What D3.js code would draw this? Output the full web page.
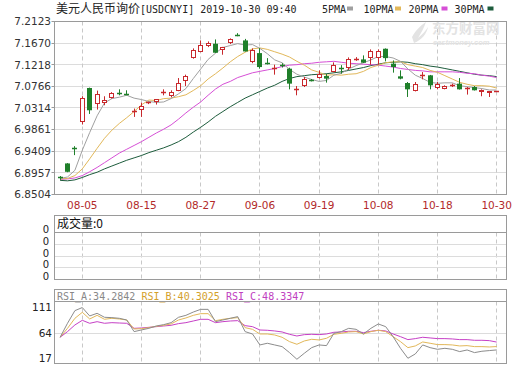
<!DOCTYPE html>
<html><head><meta charset="utf-8">
<script src="https://cdn.jsdelivr.net/npm/d3@7"></script>
<style>body{margin:0;background:#fff}svg{display:block}</style>
</head><body>
<svg id="c" width="520" height="365"></svg>
<script>
const dates = ["07-31","08-01","08-02","08-05","08-06","08-07","08-08","08-09","08-12","08-13","08-14","08-15","08-16","08-19","08-20","08-21","08-22","08-23","08-26","08-27","08-28","08-29","08-30","09-02","09-03","09-04","09-05","09-06","09-09","09-10","09-11","09-12","09-16","09-17","09-18","09-19","09-20","09-23","09-24","09-25","09-26","09-27","09-30","10-08","10-09","10-10","10-11","10-14","10-15","10-16","10-17","10-18","10-21","10-22","10-23","10-24","10-25","10-28","10-29","10-30"];
const xTickLabels = ["08-05","08-15","08-27","09-06","09-19","10-08","10-18","10-30"];
const priceTicks = ["7.2123","7.1670","7.1218","7.0766","7.0314","6.9861","6.9409","6.8957","6.8504"];
const open  = [6.887,6.9154,6.948,7.0022,7.0732,7.0406,7.0419,7.0523,7.0625,7.061,7.024,7.0273,7.041,7.0427,7.062,7.0565,7.0669,7.0878,7.1366,7.1483,7.1608,7.1658,7.1533,7.1658,7.1836,7.1727,7.1274,7.1462,7.1246,7.1125,7.121,7.1136,7.069,7.0788,7.090,7.094,7.0982,7.1065,7.116,7.1149,7.132,7.133,7.1345,7.1357,7.1553,7.1241,7.0976,7.0836,7.0684,7.099,7.0997,7.0732,7.0719,7.078,7.0823,7.0712,7.0752,7.0636,7.0636,7.0662];
const high  = [6.889,6.916,6.9515,7.0559,7.074,7.0677,7.0559,7.0645,7.0704,7.0684,7.0302,7.0427,7.0445,7.050,7.0704,7.0684,7.094,7.1011,7.156,7.1727,7.1706,7.1748,7.1592,7.177,7.1879,7.1759,7.156,7.1566,7.1357,7.122,7.125,7.1156,7.0773,7.0962,7.092,7.1101,7.103,7.1268,7.121,7.1372,7.1378,7.1414,7.1539,7.1539,7.156,7.1309,7.1101,7.0857,7.0857,7.1065,7.1005,7.0857,7.0788,7.0823,7.094,7.0752,7.0773,7.0704,7.0669,7.0668];
const low   = [6.881,6.897,6.9328,6.9968,7.0189,7.0281,7.0371,7.051,7.0579,7.058,7.0127,7.0127,7.0395,7.0385,7.0579,7.0537,7.0665,7.0773,7.1345,7.148,7.1587,7.1465,7.1428,7.165,7.1815,7.1495,7.125,7.1136,7.1225,7.1011,7.116,7.0704,7.0579,7.0752,7.087,7.093,7.0844,7.106,7.1032,7.1108,7.130,7.1255,7.122,7.122,7.1289,7.1053,7.0913,7.0544,7.066,7.0913,7.0704,7.0704,7.0704,7.0752,7.0700,7.0594,7.068,7.0559,7.0544,7.0660];
const close = [6.886,6.8979,6.945,7.0523,7.0266,7.0615,7.0475,7.0636,7.061,7.0595,7.026,7.0356,7.043,7.0496,7.064,7.0648,7.0836,7.0982,7.1533,7.1637,7.1664,7.147,7.1587,7.1748,7.1826,7.1497,7.1533,7.117,7.124,7.114,7.120,7.0823,7.071,7.0926,7.0885,7.1017,7.0928,7.122,7.114,7.1345,7.134,7.1261,7.1497,7.1497,7.1357,7.117,7.0928,7.0704,7.0823,7.1005,7.0788,7.0823,7.0773,7.0795,7.0704,7.0726,7.0684,7.0684,7.0669,7.0665];
const ma5  = [6.884,6.887,6.901,6.943,6.980,7.015,7.042,7.051,7.054,7.058,7.052,7.049,7.045,7.043,7.044,7.051,7.061,7.072,7.093,7.113,7.133,7.146,7.158,7.162,7.166,7.163,7.164,7.156,7.145,7.132,7.126,7.112,7.102,7.096,7.091,7.087,7.089,7.100,7.104,7.113,7.120,7.126,7.132,7.139,7.139,7.136,7.129,7.113,7.100,7.093,7.085,7.083,7.084,7.084,7.078,7.076,7.074,7.072,7.069,7.069];
const ma10 = [6.883,6.884,6.890,6.904,6.925,6.947,6.968,6.985,6.999,7.011,7.024,7.038,7.048,7.047,7.051,7.052,7.055,7.059,7.068,7.078,7.092,7.103,7.115,7.128,7.139,7.148,7.155,7.157,7.154,7.149,7.144,7.138,7.129,7.121,7.111,7.106,7.100,7.101,7.100,7.102,7.103,7.108,7.116,7.121,7.126,7.128,7.128,7.122,7.119,7.116,7.110,7.106,7.099,7.092,7.085,7.081,7.078,7.078,7.077,7.073];
const ma20 = [6.882,6.883,6.885,6.890,6.898,6.907,6.917,6.927,6.937,6.945,6.953,6.961,6.970,6.979,6.987,6.996,7.008,7.021,7.033,7.044,7.058,7.071,7.081,7.087,7.095,7.100,7.105,7.108,7.111,7.114,7.118,7.121,7.122,7.124,7.125,7.127,7.128,7.129,7.127,7.125,7.124,7.123,7.122,7.121,7.119,7.117,7.114,7.112,7.110,7.109,7.107,7.107,7.107,7.107,7.106,7.104,7.103,7.100,7.098,7.095];
const ma30 = [6.880,6.879,6.881,6.886,6.892,6.897,6.904,6.910,6.916,6.922,6.927,6.932,6.938,6.943,6.948,6.954,6.961,6.970,6.981,6.991,7.002,7.014,7.024,7.034,7.043,7.052,7.059,7.066,7.073,7.079,7.087,7.093,7.097,7.099,7.101,7.102,7.103,7.105,7.107,7.110,7.113,7.116,7.120,7.123,7.126,7.127,7.128,7.127,7.124,7.122,7.119,7.117,7.114,7.111,7.108,7.105,7.102,7.100,7.099,7.097];
const volTicks = ["0","0","0","0","0"];
const rsiTicks = [111, 64, 17];
const rsiA = [56.9,81.9,104.5,110,95,99.7,92.6,92,90.8,87.8,67,70,72.9,77.1,79.5,83,92.6,96.1,102,106.8,106.8,84.8,87.8,90.8,93.8,67,62.8,43.2,46.2,43.2,40.2,29.5,17.6,28.3,38.4,43.2,42,64,67,72.9,71.1,62.8,72.9,80.7,75.9,58,37.2,19.4,27.1,43.2,38.4,35.4,37.2,35.4,31.3,34.2,29.5,31.9,33.1,34.28];
const rsiB = [56.9,72.9,90.8,101.5,89.6,96.1,89,90.8,89.6,87.8,71.7,72.3,74.1,76.5,78.3,80.7,87.8,91.4,96.1,99.1,99.1,86.6,89,90.8,92,74.1,71.1,62.8,62.8,61,56.9,49.1,44.4,50.3,53.3,52.1,55.1,62.2,64,66.4,67,62.8,67,69.4,67,58,49.1,38.4,41.4,48.5,46.2,43.8,43.8,43.2,41.4,42,40.2,40.2,39.6,40.3];
const rsiC = [56.9,67,78.9,87.2,81.9,84.8,81.9,83,82.4,81.9,72.9,73.5,74.7,75.9,77.1,78.3,81.3,83,86,89,89,83,84.8,86,86.6,77.7,75.9,69.9,69.4,68.2,66.4,62.2,59.2,61.6,62.2,61.6,62.8,65.8,66.4,67.6,67.6,65.2,67.6,69.4,68.2,62.8,58,52.7,54.5,56.9,55.7,54.5,54.5,53.9,52.7,52.7,51.5,51.5,50.9,48.33];
const rsiLabels = ["RSI_A:34.2842","RSI_B:40.3025","RSI_C:48.3347"];

const svg = d3.select("#c");
const L = 54.5, R = 506.5;
const main = {top: 21.5, bottom: 194.5};
const vol = {top: 215.5, sep: 232.5, bottom: 279.5};
const rsiP = {top: 289.5, sep: 301.5, bottom: 363.5};
const RED = "#c8282c", GREEN = "#1f7f2a", GRID = "#dcdcdc", FRAME = "#9a9a9a";
const cjk = "'Noto Sans CJK SC', sans-serif", mono = "'DejaVu Sans Mono', monospace", axf = "'DejaVu Sans', Verdana, sans-serif", sans = "'Liberation Sans', Arial, sans-serif";

const x = d3.scalePoint().domain(dates).range([60.1, 496.7]);
const y = d3.scaleLinear().domain([6.8504, 7.2123]).range([194.5, 21.5]);
const yR = d3.scaleLinear().domain([17, 111]).range([359.6, 307]);
const yV = d3.scaleLinear().domain([0, 4]).range([vol.sep, vol.bottom]);

const crisp = v => Math.round(v - 0.5) + 0.5;

// ---------- title & legend ----------
const t = svg.append("text").attr("y", 12.5).attr("fill", "#222");
t.append("tspan").attr("x", 56).attr("font-family", cjk).attr("font-size", 12).text("美元人民币询价");
t.append("tspan").attr("x", 140).attr("font-family", mono).attr("font-size", 10).text("[USDCNYI] 2019-10-30 09:40");
const legend = [["5PMA","#a0a0a0",322,347],["10PMA","#e2b85a",363.5,395],["20PMA","#d64fd6",408.5,441.5],["30PMA","#1d5c3c",454.5,487.5]];
legend.forEach(([name,col,tx,sx])=>{
  svg.append("text").attr("x",tx).attr("y",12.5).attr("font-family",mono).attr("font-size",10).attr("fill","#222").text(name);
  svg.append("rect").attr("x",sx).attr("y",6.5).attr("width",6).attr("height",4).attr("fill",col);
});

// ---------- vertical dashed grid ----------
function vgrid(top, bottom){
  svg.append("g").selectAll("line").data(xTickLabels).join("line")
    .attr("x1",d=>crisp(x(d))).attr("x2",d=>crisp(x(d)))
    .attr("y1",top).attr("y2",bottom)
    .attr("stroke","#c8c8c8").attr("stroke-dasharray","4,3");
}

// ---------- main panel ----------
svg.append("g").selectAll("line").data(priceTicks.slice(1,-1)).join("line")
  .attr("x1",L).attr("x2",R).attr("y1",d=>crisp(y(+d))).attr("y2",d=>crisp(y(+d)))
  .attr("stroke",GRID);
vgrid(main.top, main.bottom);

// watermark
const wm = svg.append("g").attr("fill","#e3e3e3");
wm.append("path").attr("d","M412,37 C416,30 420,26 426,22 C424,28 421,33 418,38 C423,34 426,30 428,27 C427,33 422,40 414,43 Z");
wm.append("text").attr("x",432).attr("y",33).attr("font-family",cjk).attr("font-size",13.5).attr("font-weight","bold").text("东方财富网");
wm.append("text").attr("x",433).attr("y",45).attr("font-family",sans).attr("font-size",7.5).attr("font-weight","bold").attr("font-style","italic").text("eastmoney.com");

svg.append("rect").attr("x",L).attr("y",main.top).attr("width",R-L).attr("height",main.bottom-main.top)
  .attr("fill","none").attr("stroke",FRAME);

// y labels + ticks
svg.append("g").selectAll("text").data(priceTicks).join("text")
  .attr("x",51).attr("y",d=>y(+d)+3.8).attr("text-anchor","end")
  .attr("font-family",axf).attr("font-size",10.5).attr("fill","#333").text(d=>d);
svg.append("g").selectAll("line").data(priceTicks).join("line")
  .attr("x1",51.5).attr("x2",L).attr("y1",d=>crisp(y(+d))).attr("y2",d=>crisp(y(+d)))
  .attr("stroke",FRAME);
// x labels
svg.append("g").selectAll("text").data(xTickLabels).join("text")
  .attr("x",d=>x(d)).attr("y",209).attr("text-anchor","middle")
  .attr("font-family",axf).attr("font-size",10.5).attr("fill","#b22a2a").text(d=>d);

// MA lines
const maLine = arr => d3.line().x((d,i)=>x(dates[i])).y(d=>y(d))(arr);
[[ma30,"#1d5c3c"],[ma20,"#d64fd6"],[ma10,"#e2b85a"],[ma5,"#a0a0a0"]].forEach(([arr,col])=>{
  svg.append("path").attr("d",maLine(arr)).attr("fill","none").attr("stroke",col).attr("stroke-width",1);
});

// candles
const candles = svg.append("g");
dates.forEach((d,i)=>{
  const o=open[i], c=close[i], h=high[i], l=low[i];
  const up = c >= o;
  const col = up ? RED : GREEN;
  const cx = crisp(x(d));
  candles.append("line").attr("x1",cx).attr("x2",cx).attr("y1",y(h)).attr("y2",y(l)).attr("stroke",col);
  const yt = y(Math.max(o,c)), yb = y(Math.min(o,c));
  const hgt = yb - yt;
  if (hgt < 1.5){
    candles.append("line").attr("x1",cx-2.5).attr("x2",cx+2.5).attr("y1",crisp((yt+yb)/2)).attr("y2",crisp((yt+yb)/2)).attr("stroke",col).attr("stroke-width",1.5);
  } else if (up){
    candles.append("rect").attr("x",cx-2).attr("y",Math.round(yt)+0.5).attr("width",4).attr("height",Math.max(1,Math.round(hgt)-1))
      .attr("fill","#fff").attr("stroke",col);
  } else {
    candles.append("rect").attr("x",cx-2.5).attr("y",yt).attr("width",5).attr("height",hgt).attr("fill",col);
  }
});

// ---------- volume panel ----------
vgrid(vol.sep, vol.bottom);
svg.append("g").selectAll("line").data([1,2,3]).join("line")
  .attr("x1",L).attr("x2",R).attr("y1",d=>crisp(yV(d))).attr("y2",d=>crisp(yV(d))).attr("stroke",GRID);
svg.append("rect").attr("x",L).attr("y",vol.top).attr("width",R-L).attr("height",vol.bottom-vol.top).attr("fill","none").attr("stroke",FRAME);
svg.append("line").attr("x1",L).attr("x2",R).attr("y1",vol.sep).attr("y2",vol.sep).attr("stroke",FRAME);
svg.append("text").attr("x",57).attr("y",227.5).attr("font-family",cjk).attr("font-size",12).attr("fill","#111").text("成交量:0");
svg.append("g").selectAll("text").data(volTicks).join("text")
  .attr("x",49).attr("y",(d,i)=>yV(i)+0.5).attr("text-anchor","end")
  .attr("font-family",axf).attr("font-size",10).attr("fill","#222").text(d=>d);

// ---------- RSI panel ----------
vgrid(rsiP.sep, rsiP.bottom);
svg.append("line").attr("x1",L).attr("x2",R).attr("y1",crisp(yR(64))).attr("y2",crisp(yR(64))).attr("stroke",GRID);
svg.append("rect").attr("x",L).attr("y",rsiP.top).attr("width",R-L).attr("height",rsiP.bottom-rsiP.top).attr("fill","none").attr("stroke",FRAME);
svg.append("line").attr("x1",L).attr("x2",R).attr("y1",rsiP.sep).attr("y2",rsiP.sep).attr("stroke",FRAME);
const rl = d3.line().x((d,i)=>x(dates[i])).y(d=>yR(d));
[[rsiC,"#c640c6"],[rsiB,"#e2b85a"],[rsiA,"#8c8c8c"]].forEach(([arr,col])=>{
  svg.append("path").attr("d",rl(arr)).attr("fill","none").attr("stroke",col).attr("stroke-width",1);
});
const rt = svg.append("text").attr("y",299.5).attr("font-family",mono).attr("font-size",10);
rt.append("tspan").attr("x",57).attr("fill","#888").text(rsiLabels[0]);
rt.append("tspan").attr("x",141.5).attr("fill","#d4a02a").text(rsiLabels[1]);
rt.append("tspan").attr("x",226).attr("fill","#c040c0").text(rsiLabels[2]);
svg.append("g").selectAll("text").data(rsiTicks).join("text")
  .attr("x",52).attr("y",d=>Math.min(yR(d)+3.8, 362.3)).attr("text-anchor","end")
  .attr("font-family",axf).attr("font-size",10.5).attr("fill","#222").text(d=>d);
</script>
</body></html>
